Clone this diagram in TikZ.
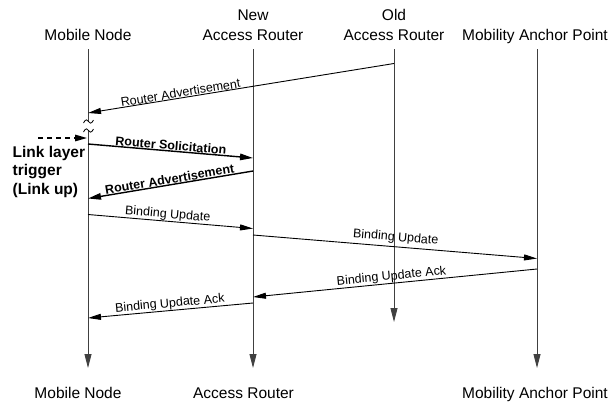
\documentclass[tikz,border=0pt]{standalone}
\usepackage{fontspec}
\setmainfont{Liberation Sans}
\usetikzlibrary{arrows.meta}
\tikzset{
  lifeline/.style={draw=black!75, line width=0.9pt, -{Triangle[length=14pt,width=7pt]}},
  msg/.style={draw=black, line width=0.9pt, -{Triangle[length=13pt,width=6pt]}},
  boldmsg/.style={draw=black, line width=1.4pt, -{Triangle[length=13pt,width=6.5pt]}},
  lbl/.style={font=\fontsize{12.5}{14}\selectfont, inner sep=0.3pt, sloped, above},
  boldlbl/.style={font=\fontsize{12.5}{14}\selectfont\bfseries, inner sep=0.3pt, sloped, above},
  head/.style={font=\fontsize{15.5}{18}\selectfont, inner sep=0pt, anchor=base},
  tilde/.style={draw=black, line width=0.8pt},
}
\begin{document}
\begin{tikzpicture}[x=1pt,y=-1pt]
\useasboundingbox (0,0) rectangle (609,404);
% headers
\node[head] (hmn) at (88,40.7) {Mobile Node};
\node[head] (hnew) at (253,21) {New};
\node[head] (hnar) at (253,40.7) {Access Router};
\node[head] (hold) at (394,21) {Old};
\node[head] (hoar) at (394,40.7) {Access Router};
\node[head] (hmap) at (535,40.7) {Mobility Anchor Point};
% footers
\node[head] (fmn) at (78,398) {Mobile Node};
\node[head] (fnar) at (243.5,398) {Access Router};
\node[head] (fmap) at (535,398) {Mobility Anchor Point};
% lifeline coordinates
\coordinate (mn0) at (88,49);
\coordinate (mnb1) at (88,121);
\coordinate (mnb2) at (88,131);
\coordinate (mn1) at (88,368);
\coordinate (nar0) at (253,49);
\coordinate (nar1) at (253,368);
\coordinate (oar0) at (394,49);
\coordinate (oar1) at (394,322);
\coordinate (map0) at (537,49);
\coordinate (map1) at (537,368);
\draw[draw=black!75, line width=0.9pt] (mn0) -- (mnb1);
\draw[lifeline] (mnb2) -- (mn1);
\draw[lifeline] (nar0) -- (nar1);
\draw[lifeline] (oar0) -- (oar1);
\draw[lifeline] (map0) -- (map1);
% tildes
\draw[tilde] (83.5,123) .. controls (85.5,118.5) and (88,119.5) .. (88.5,121.5) .. controls (89,123.5) and (91.5,124.5) .. (93.5,120);
\draw[tilde] (83.5,132) .. controls (85.5,127.5) and (88,128.5) .. (88.5,130.5) .. controls (89,132.5) and (91.5,133.5) .. (93.5,129);
% message endpoints
\coordinate (a1) at (394,63.5);  \coordinate (b1) at (88,113);
\coordinate (a2) at (88,144);  \coordinate (b2) at (253,158);
\coordinate (a3) at (253,171); \coordinate (b3) at (88,198.5);
\coordinate (a4) at (88,214.5);  \coordinate (b4) at (253,228.5);
\coordinate (a5) at (253,235); \coordinate (b5) at (537,258.5);
\coordinate (a6) at (537,269); \coordinate (b6) at (253,297);
\coordinate (a7) at (253,303); \coordinate (b7) at (88,318);
\coordinate (t0) at (38,138);  \coordinate (t1) at (87,138);
\draw[msg] (a1) -- node[lbl, pos=0.695] {Router Advertisement} (b1);
\draw[boldmsg] (a2) -- node[boldlbl] {Router Solicitation} (b2);
\draw[boldmsg] (a3) -- node[boldlbl] {Router Advertisement} (b3);
\draw[msg] (a4) -- node[lbl, pos=0.48] {Binding Update} (b4);
\draw[msg] (a5) -- node[lbl, yshift=2.5pt] {Binding Update} (b5);
\draw[msg] (a6) -- node[lbl, pos=0.51] {Binding Update Ack} (b6);
\draw[msg] (a7) -- node[lbl, pos=0.5] {Binding Update Ack} (b7);
\draw[line width=1.4pt, dash pattern=on 5pt off 4pt, -{Triangle[length=12pt,width=6.5pt]}] (t0) -- (t1);
\node[font=\fontsize{15.5}{18.5}\selectfont\bfseries, align=left, anchor=base west, inner sep=0pt] (trig) at (12.5,194) {Link layer\\trigger\\(Link up)};
\end{tikzpicture}
\end{document}
